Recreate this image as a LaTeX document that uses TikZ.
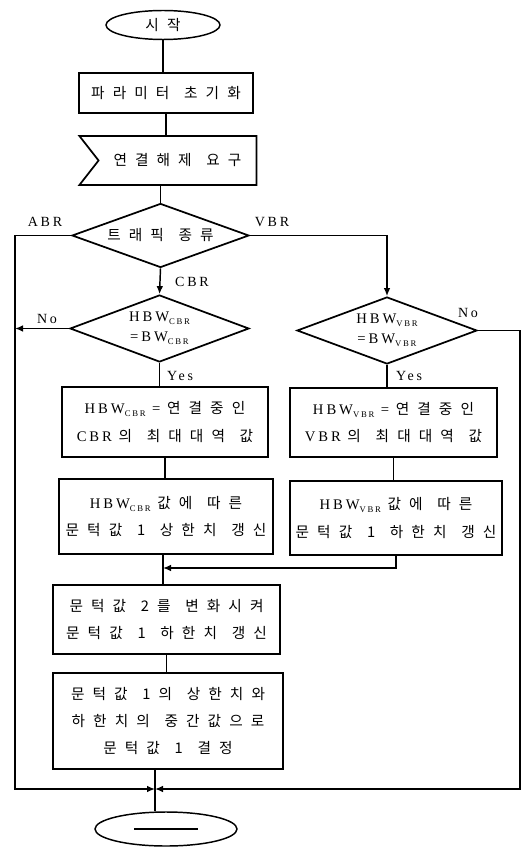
\documentclass[tikz,border=0pt]{standalone}
\usepackage{fontspec}
\setmainfont{Liberation Serif}[LetterSpace=20]
\newfontfamily\kr{Noto Sans CJK KR}[LetterSpace=55, WordSpace=1.3]
\usetikzlibrary{shapes.geometric,shapes.symbols,arrows.meta}
\newcommand\lowsub[1]{\raisebox{-0.45ex}{\fontsize{6.5}{6.5}\selectfont #1}}
\begin{document}
\begin{tikzpicture}[x=0.75pt, y=-0.75pt,
    proc/.style={draw, line width=1.3pt, inner sep=0pt, align=center,
      font=\fontsize{11}{20.5}\selectfont},
    term/.style={draw, ellipse, line width=1.1pt, inner sep=0pt,
      font=\fontsize{11}{12}\selectfont},
    test/.style={draw, diamond, shape aspect=2.8, line width=1.3pt, inner sep=0pt,
      align=center, font=\fontsize{11}{15}\selectfont},
    lbl/.style={font=\fontsize{10.5}{12}\selectfont},
    line/.style={line width=1.1pt},
    arr/.style={line width=1.1pt, -{Latex[length=6pt,width=5pt]}}]
  \useasboundingbox (0,0) rectangle (522,848);
  % Main column
  \node[term, minimum width=85.5pt, minimum height=21.75pt] (start) at (163,25) {\kr 시작};
  \node[proc, minimum width=130.5pt, minimum height=30pt] (init) at (166,93) {\kr 파라미터 초기화};
  \node[proc, signal, signal to=nowhere, signal from=west, signal pointer angle=104,
    minimum width=132.75pt, minimum height=36.75pt] (req) at (177.5,160.5) {\kr 연결해제 요구};
  \node[test, minimum width=132.75pt, minimum height=48pt] (type) at (160.5,235.5) {\kr 트래픽 종류};
  % The two branches
  \node[test, minimum width=134.25pt, minimum height=50.25pt] (cbrq) at (159.5,328.5)
    {HBW\lowsub{CBR}\\=BW\lowsub{CBR}};
  \node[test, minimum width=135pt, minimum height=50.25pt] (vbrq) at (387,330.5)
    {HBW\lowsub{VBR}\\=BW\lowsub{VBR}};
  \node[proc, minimum width=154.5pt, minimum height=52.5pt] (cbr1) at (165,422)
    {HBW\lowsub{CBR} = {\kr 연결중인}\\CBR {\kr 의 최대대역 값}};
  \node[proc, minimum width=155.25pt, minimum height=51.75pt] (vbr1) at (393.5,422.5)
    {HBW\lowsub{VBR} = {\kr 연결중인}\\VBR {\kr 의 최대대역 값}};
  \node[proc, minimum width=160.5pt, minimum height=56.25pt] (cbr2) at (166,516.5)
    {HBW\lowsub{CBR} {\kr 값에 따른}\\{\kr 문턱값 1 상한치 갱신}};
  \node[proc, minimum width=159pt, minimum height=55.5pt] (vbr2) at (396,518)
    {HBW\lowsub{VBR} {\kr 값에 따른}\\{\kr 문턱값 1 하한치 갱신}};
  % After the merge
  \node[proc, minimum width=170.25pt, minimum height=51.75pt] (upd) at (166.5,619.5)
    {\kr 문턱값 2를 변화시켜\\\kr 문턱값 1 하한치 갱신};
  \node[proc, minimum width=172.5pt, minimum height=72pt] (mid) at (168,721)
    {\kr 문턱값 1의 상한치와\\\kr 하한치의 중간값으로\\\kr 문턱값 1 결정};
  \node[term, minimum width=106.5pt, minimum height=25.5pt] (end) at (166,829) {};
  \draw[line width=1pt] ([xshift=-24pt]end.center) -- ([xshift=24pt]end.center);
  % Corner and join points
  \coordinate (lft) at (15,789);
  \coordinate (rgt) at (520,789);
  \coordinate (jn) at (155,789);
  \coordinate (mrg) at (163,568);
  % Connectors
  \draw[line] (start) -- (start |- init.north);
  \draw[line] (init) -- (init |- req.north);
  \draw[line] (type |- req.south) -- (type.north);
  \draw[arr] (type.south) -- (cbrq.north);
  \draw[arr] (type.east) -| (vbrq.north);
  \draw[arr] (type.west) -| (lft) -- (jn);
  \draw[arr] (cbrq.west) -- (cbrq.west -| lft);
  \draw[arr] (vbrq.east) -| (rgt) -- (jn);
  \draw[line] (cbrq.south) -- (cbrq.south |- cbr1.north);
  \draw[line] (vbrq.south) -- (vbrq.south |- vbr1.north);
  \draw[line] (cbr1) -- (cbr1 |- cbr2.north);
  \draw[line] (vbr1) -- (vbr1 |- vbr2.north);
  \draw[line] (mrg |- cbr2.south) -- (mrg |- upd.north);
  \draw[arr] (vbr2.south) |- (mrg);
  \draw[line] (upd) -- (upd |- mid.north);
  \draw[line] (jn |- mid.south) -- (jn |- end.north);
  % Branch labels
  \node[lbl] (labr) at (45,222) {ABR};
  \node[lbl] (lvbr) at (272,222) {VBR};
  \node[lbl] (lcbr) at (192,282) {CBR};
  \node[lbl] (lno1) at (47,319) {No};
  \node[lbl] (lno2) at (468,313) {No};
  \node[lbl] (lyes1) at (180,376) {Yes};
  \node[lbl] (lyes2) at (409,376) {Yes};
\end{tikzpicture}
\end{document}
